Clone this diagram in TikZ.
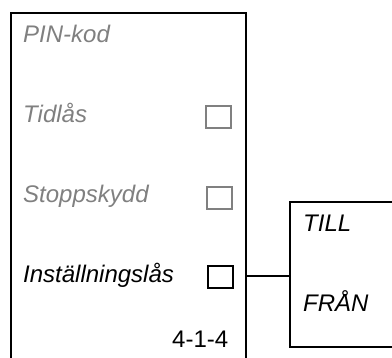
\documentclass[tikz,border=0pt]{standalone}
\usepackage{fontspec}
\setmainfont{Liberation Sans}
\definecolor{lightgraytext}{RGB}{128,128,128}
\begin{document}
\begin{tikzpicture}[x=1pt,y=-1pt,
  lbl/.style={anchor=base west,inner sep=0pt,font=\fontsize{24}{28}\selectfont\itshape},
  num/.style={anchor=base west,inner sep=0pt,font=\fontsize{24}{28}\selectfont},
  frame/.style={line width=2.5pt},
  chk/.style={draw=lightgraytext,line width=2pt,minimum width=25pt,minimum height=22pt,inner sep=0pt},
  chkon/.style={draw=black,line width=2pt,minimum width=25pt,minimum height=22pt,inner sep=0pt}]
\useasboundingbox (0,0) rectangle (392,358);
% left panel (open at bottom)
\draw[frame] (11,358) -- (11,13) -- (246,13) -- (246,358);
% right panel (open at right)
\draw[frame] (392,202) -- (290,202) -- (290,347) -- (392,347);
\node[lbl,text=lightgraytext] (pin) at (23,43) {PIN-kod};
\node[lbl,text=lightgraytext] (tid) at (23,123) {Tidlås};
\node[lbl,text=lightgraytext] (stopp) at (23,203) {Stoppskydd};
\node[lbl] (inst) at (23,283) {Inställningslås};
\node[num] (code) at (172,348) {4-1-4};
\node[chk] (boxtid) at (218,117.5) {};
\node[chk] (boxstopp) at (219,198) {};
\node[chkon] (boxinst) at (220,277) {};
\node[lbl] (till) at (303,232) {TILL};
\node[lbl] (fran) at (303,312) {FRÅN};
\coordinate (lp) at (245,276);
\coordinate (rp) at (290,276);
\draw[frame] (lp) -- (rp);
\end{tikzpicture}
\end{document}
